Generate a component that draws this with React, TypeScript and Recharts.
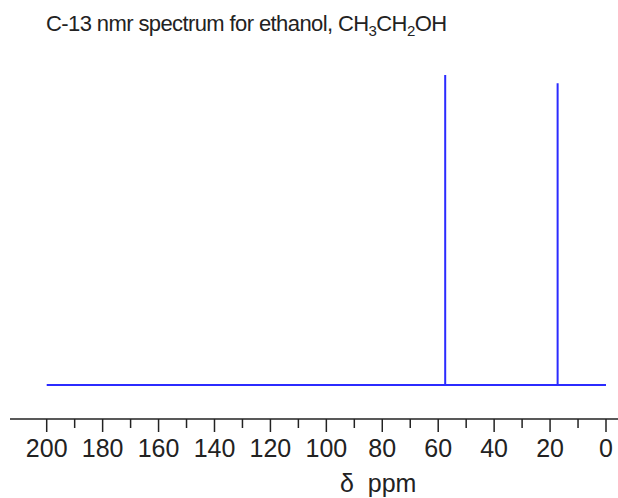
import { ComposedChart, Line, XAxis, YAxis } from "recharts";

// C-13 peaks for ethanol (ppm) and relative heights
const peakShifts = [57.5, 17.3];
const peakHeights = [100, 97.3];
const axisTicks = [200, 190, 180, 170, 160, 150, 140, 130, 120, 110, 100, 90, 80, 70, 60, 50, 40, 30, 20, 10, 0];
const labelledTicks = [200, 180, 160, 140, 120, 100, 80, 60, 40, 20, 0];

const FONT = "'Liberation Sans', Arial, sans-serif";

// stick spectrum: baseline from 200 down to 0 with a vertical line at each peak
const spectrum = [{ ppm: 200, intensity: 0 }];
peakShifts.forEach((s, i) => {
  spectrum.push({ ppm: s, intensity: 0 });
  spectrum.push({ ppm: s, intensity: peakHeights[i] });
  spectrum.push({ ppm: s, intensity: 0 });
});
spectrum.push({ ppm: 0, intensity: 0 });

const PpmTick = (props: any) => {
  const { x, y, payload } = props;
  const major = labelledTicks.includes(payload.value);
  return (
    <g>
      <line x1={x} x2={x} y1={y} y2={y + (major ? 13 : 9)} stroke="#222" strokeWidth={1.5} />
      {major && (
        <text x={x} y={y + 38} textAnchor="middle" fill="#222" fontSize={25} fontFamily={FONT}>
          {payload.value}
        </text>
      )}
    </g>
  );
};

export default function App() {
  return (
    <div style={{ position: "absolute", left: 0, top: 0, width: 618, height: 498, background: "#fff" }}>
      <div
        style={{
          position: "absolute",
          left: 46,
          top: 11,
          fontFamily: FONT,
          fontSize: 22,
          color: "#222",
          whiteSpace: "nowrap",
          letterSpacing: -0.6,
        }}
      >
        C-13 nmr spectrum for ethanol, CH<sub style={{ fontSize: 15 }}>3</sub>CH<sub style={{ fontSize: 15 }}>2</sub>OH
      </div>
      <ComposedChart
        width={618}
        height={498}
        data={spectrum}
        margin={{ top: 75, right: 0, left: 10, bottom: 19 }}
      >
        <XAxis
          dataKey="ppm"
          type="number"
          domain={[0, 200]}
          reversed
          ticks={axisTicks}
          interval={0}
          padding={{ left: 36.7, right: 12 }}
          height={60}
          tickSize={0}
          tickMargin={0}
          tickLine={false}
          axisLine={{ stroke: "#222", strokeWidth: 1.5 }}
          tick={<PpmTick />}
        />
        <YAxis type="number" domain={[-11, 100]} hide allowDataOverflow />
        <Line
          type="linear"
          dataKey="intensity"
          stroke="#2b2bff"
          strokeWidth={2}
          dot={false}
          isAnimationActive={false}
        />
      </ComposedChart>
      <div
        style={{
          position: "absolute",
          left: 340,
          top: 469,
          fontFamily: FONT,
          fontSize: 25,
          color: "#222",
          whiteSpace: "pre",
        }}
      >
        {"δ  ppm"}
      </div>
    </div>
  );
}
